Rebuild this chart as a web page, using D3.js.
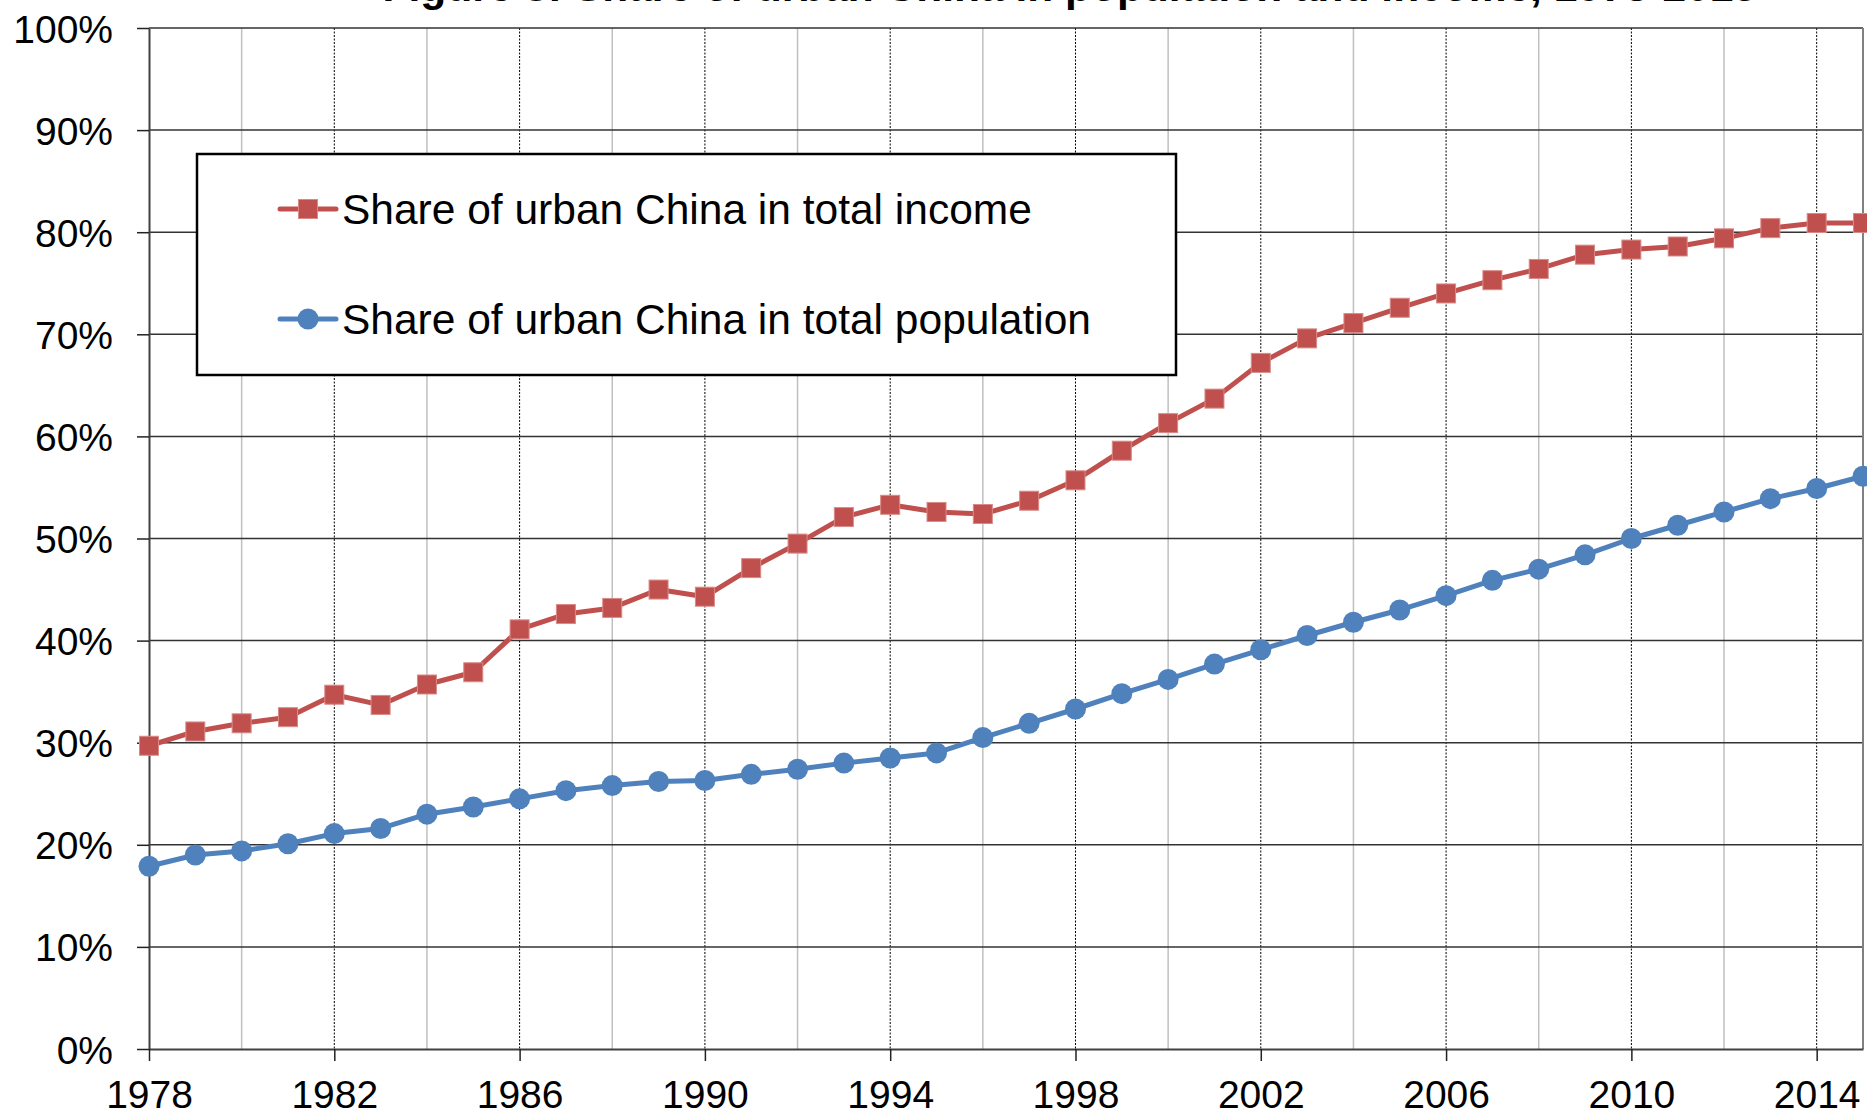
<!DOCTYPE html>
<html>
<head>
<meta charset="utf-8">
<script src="https://cdn.jsdelivr.net/npm/d3@7"></script>
<style>
  body { margin: 0; background: #fff; }
  svg { display: block; font-family: Arial, "Liberation Sans", sans-serif; }
</style>
</head>
<body>
<svg width="1867" height="1117"></svg>
<script>
// data (percent)
const YEARS = [1978, 1979, 1980, 1981, 1982, 1983, 1984, 1985, 1986, 1987, 1988, 1989,
  1990, 1991, 1992, 1993, 1994, 1995, 1996, 1997, 1998, 1999, 2000, 2001, 2002, 2003,
  2004, 2005, 2006, 2007, 2008, 2009, 2010, 2011, 2012, 2013, 2014, 2015];
const INCOME_SHARE = [29.7, 31.1, 31.9, 32.5, 34.7, 33.7, 35.7, 36.9, 41.1, 42.6, 43.2, 45.0,
  44.3, 47.1, 49.5, 52.1, 53.3, 52.6, 52.4, 53.7, 55.7, 58.6, 61.3, 63.7, 67.2, 69.6,
  71.1, 72.6, 74.0, 75.3, 76.4, 77.8, 78.3, 78.6, 79.4, 80.4, 80.9, 80.9];
const POPULATION_SHARE = [17.9, 19.0, 19.4, 20.1, 21.1, 21.6, 23.0, 23.7, 24.5, 25.3, 25.8, 26.2,
  26.3, 26.9, 27.4, 28.0, 28.5, 29.0, 30.5, 31.9, 33.3, 34.8, 36.2, 37.7, 39.1, 40.5,
  41.8, 43.0, 44.4, 45.9, 47.0, 48.4, 50.0, 51.3, 52.6, 53.9, 54.9, 56.1];
const X_TICKS = [1978, 1982, 1986, 1990, 1994, 1998, 2002, 2006, 2010, 2014];
const X_MINOR = [1980, 1984, 1988, 1992, 1996, 2000, 2004, 2008, 2012];
const Y_TICKS = [0, 10, 20, 30, 40, 50, 60, 70, 80, 90, 100];
const SERIES_NAMES = ['Share of urban China in total income', 'Share of urban China in total population'];
const TITLE = 'Figure 3: Share of urban China in population and income, 1978-2015';

const RED = '#C0504D', BLUE = '#4F81BD';

const svg = d3.select('svg');
const plotLeft = 149, plotRight = 1863, plotTop = 28, plotBottom = 1049;

const x = d3.scaleLinear().domain([1978, 2015]).range([plotLeft, plotRight]);
const y = d3.scaleLinear().domain([0, 100]).range([plotBottom, plotTop]);

// title, mostly cut off by the top edge
svg.append('text')
  .attr('x', 1757).attr('y', 1)
  .attr('text-anchor', 'end')
  .attr('font-weight', 'bold')
  .attr('font-size', 42.5)
  .text(TITLE);

// gridlines
svg.append('g').selectAll('line')
  .data(X_MINOR).join('line')
  .attr('x1', d => x(d)).attr('x2', d => x(d))
  .attr('y1', plotTop).attr('y2', plotBottom)
  .attr('stroke', '#c0c0c0').attr('stroke-width', 1.5);

svg.append('g').selectAll('line')
  .data(X_TICKS.slice(1)).join('line')
  .attr('x1', d => x(d)).attr('x2', d => x(d))
  .attr('y1', plotTop).attr('y2', plotBottom)
  .attr('stroke', '#000').attr('stroke-width', 1)
  .attr('stroke-dasharray', '2,1.5');

svg.append('g').selectAll('line')
  .data(Y_TICKS.slice(1)).join('line')
  .attr('x1', plotLeft).attr('x2', plotRight)
  .attr('y1', d => y(d)).attr('y2', d => y(d))
  .attr('stroke', '#333').attr('stroke-width', 1.5);

// right border of plot
svg.append('line')
  .attr('x1', plotRight).attr('x2', plotRight).attr('y1', plotTop).attr('y2', plotBottom)
  .attr('stroke', '#808080').attr('stroke-width', 2);

// axes
const yAxis = svg.append('g')
  .attr('transform', `translate(${plotLeft},0)`)
  .call(d3.axisLeft(y).tickValues(Y_TICKS).tickSize(12).tickSizeOuter(0).tickPadding(24)
    .tickFormat(d => d + '%'));

const xAxis = svg.append('g')
  .attr('transform', `translate(0,${plotBottom})`)
  .call(d3.axisBottom(x).tickValues(X_TICKS).tickSize(12).tickSizeOuter(0).tickPadding(19)
    .tickFormat(d3.format('d')));

[yAxis, xAxis].forEach(g => {
  g.select('.domain').attr('stroke', '#404040').attr('stroke-width', 2);
  g.selectAll('.tick line').attr('stroke', '#222').attr('stroke-width', 1.5);
  g.selectAll('.tick text')
    .attr('font-family', 'Arial, "Liberation Sans", sans-serif')
    .attr('font-size', 39).attr('fill', '#000');
});
yAxis.selectAll('.tick text').attr('dy', '0.36em');

// series
const series = [
  {name: SERIES_NAMES[0], values: INCOME_SHARE, color: RED, shape: 'square'},
  {name: SERIES_NAMES[1], values: POPULATION_SHARE, color: BLUE, shape: 'circle'},
];

const line = d3.line().x((d, i) => x(YEARS[i])).y(d => y(d));

function drawMarker(sel, s, cx, cy) {
  if (s.shape === 'square') {
    sel.append('rect')
      .attr('x', cx - 9.5).attr('y', cy - 9.5)
      .attr('width', 19).attr('height', 19)
      .attr('fill', s.color).attr('stroke', '#d98a88').attr('stroke-width', 1);
  } else {
    sel.append('circle')
      .attr('cx', cx).attr('cy', cy).attr('r', 10.5)
      .attr('fill', s.color);
  }
}

series.forEach(s => {
  const g = svg.append('g');
  g.append('path')
    .datum(s.values)
    .attr('d', line)
    .attr('fill', 'none')
    .attr('stroke', s.color)
    .attr('stroke-width', 5)
    .attr('stroke-linejoin', 'round');
  s.values.forEach((v, i) => drawMarker(g, s, x(YEARS[i]), y(v)));
});

// legend
const legend = svg.append('g');
legend.append('rect')
  .attr('x', 197).attr('y', 154).attr('width', 979).attr('height', 221)
  .attr('fill', '#fff').attr('stroke', '#000').attr('stroke-width', 2.5);

series.forEach((s, i) => {
  const ly = 209 + i * 110;
  legend.append('line')
    .attr('x1', 280).attr('x2', 336).attr('y1', ly).attr('y2', ly)
    .attr('stroke', s.color).attr('stroke-width', 5).attr('stroke-linecap', 'round');
  drawMarker(legend, s, 308, ly);
  legend.append('text')
    .attr('x', 342).attr('y', ly).attr('dy', '0.36em')
    .attr('font-size', 42.5)
    .text(s.name);
});
</script>
</body>
</html>
